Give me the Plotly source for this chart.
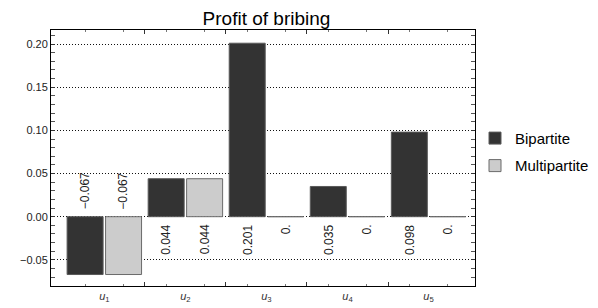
import plotly.graph_objects as go

# ---- data ----
categories = ["<i>u</i><sub>1</sub>", "<i>u</i><sub>2</sub>", "<i>u</i><sub>3</sub>",
              "<i>u</i><sub>4</sub>", "<i>u</i><sub>5</sub>"]
bipartite = [-0.067, 0.044, 0.201, 0.035, 0.098]
multipartite = [-0.067, 0.044, 0.0, 0.0, 0.0]
series_names = ["Bipartite", "Multipartite"]
title_text = "Profit of bribing"

FONT = "Liberation Sans, Arial, Helvetica, sans-serif"
BARGAP = 0.051
GROUPGAP = 0.064
xpos = list(range(1, len(categories) + 1))
slot = (1 - BARGAP) / 2          # width of one bar slot in x units
offsets = [-slot / 2, slot / 2]


def fmt(v):
    if v == 0:
        return "0."
    return f"{v:.3f}".replace("-", "\u2212")


fig = go.Figure()
fig.add_trace(go.Bar(x=xpos, y=bipartite, name=series_names[0],
                     marker=dict(color="#333333", line=dict(color="#5a5a5a", width=1)),
                     legendgroup="a"))
fig.add_trace(go.Bar(x=xpos, y=multipartite, name=series_names[1],
                     marker=dict(color="#cccccc", line=dict(color="#6a6a6a", width=1)),
                     legendgroup="b"))

annotations = []
for series, off in zip([bipartite, multipartite], offsets):
    for xv, v in zip(xpos, series):
        neg = v < 0
        annotations.append(dict(
            x=xv + off, y=0, xref="x", yref="y", text=fmt(v), showarrow=False,
            textangle=-90, font=dict(family=FONT, size=12, color="#222222"),
            xanchor="center", yanchor="bottom" if neg else "top",
            yshift=5 if neg else -6))

bar_centers = [xv + o for xv in xpos for o in offsets]
boundaries = [xv + 0.5 for xv in xpos[:-1]]

fig.update_layout(
    width=598, height=308,
    margin=dict(l=43, r=124, t=22, b=20),
    paper_bgcolor="white", plot_bgcolor="white",
    barmode="group", bargap=BARGAP, bargroupgap=GROUPGAP,
    font=dict(family=FONT, size=11, color="#222222"),
    title=dict(text=title_text, x=0.4323, xanchor="center", y=0.988, yanchor="top",
               pad=dict(t=0, b=0), font=dict(family=FONT, size=19, color="black")),
    showlegend=True,
    legend=dict(x=1.0, xanchor="left", y=0.524, yanchor="middle", traceorder="grouped",
                tracegroupgap=5, font=dict(family=FONT, size=15, color="black"),
                bgcolor="rgba(0,0,0,0)"),
    annotations=annotations,
    xaxis=dict(
        range=[0.342, 5.573], showgrid=False, zeroline=False,
        showline=True, linecolor="black", linewidth=1, mirror="allticks",
        tickmode="array", tickvals=boundaries, showticklabels=False,
        ticks="inside", ticklen=4, tickcolor="#333333", tickwidth=1,
        minor=dict(tickmode="array", tickvals=bar_centers, ticks="inside",
                   ticklen=2, tickcolor="#777777", showgrid=False),
    ),
    xaxis2=dict(
        range=[0.342, 5.573], overlaying="x", side="bottom", showgrid=False,
        zeroline=False, showline=False, tickmode="array", tickvals=xpos,
        ticktext=categories, ticks="", ticklabelstandoff=2,
        tickfont=dict(family=FONT, size=11, color="#333333"),
    ),
    yaxis=dict(
        range=[-0.0803, 0.2163], showgrid=True, gridcolor="#111111", griddash="1px,2px",
        gridwidth=1, zeroline=False, showline=True, linecolor="black", linewidth=1,
        mirror="allticks", tickmode="linear", tick0=0, dtick=0.05, tickformat=".2f",
        ticks="inside", ticklen=4, tickcolor="#333333",
        tickfont=dict(family=FONT, size=11, color="#222222"),
        minor=dict(dtick=0.01, tick0=0, ticks="inside", ticklen=2, tickcolor="#555555",
                   showgrid=False),
    ),
)
# invisible trace to activate xaxis2
fig.add_trace(go.Scatter(x=xpos, y=[0] * len(xpos), xaxis="x2", mode="markers",
                         marker=dict(opacity=0), showlegend=False, hoverinfo="skip"))

fig.write_html("out.html")
